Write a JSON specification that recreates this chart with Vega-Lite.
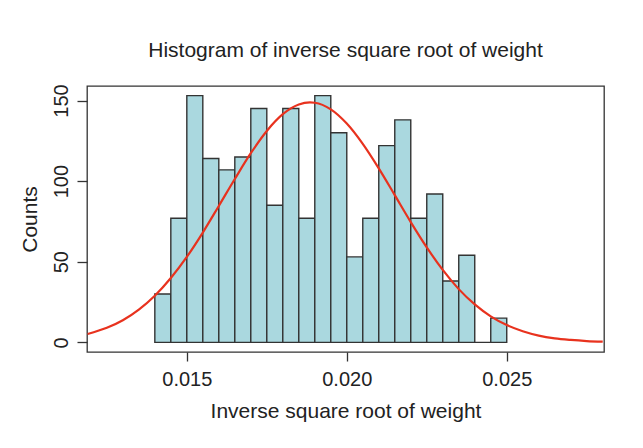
{
  "$schema": "https://vega.github.io/schema/vega-lite/v6.json",
  "width": 517,
  "height": 266,
  "autosize": {"type": "none"},
  "padding": {"left": 87, "top": 86, "right": 39, "bottom": 96},
  "background": "white",
  "title": {
    "text": "Histogram of inverse square root of weight",
    "font": "Liberation Sans",
    "fontSize": 21,
    "fontWeight": "normal",
    "color": "#222222",
    "anchor": "middle",
    "offset": 23
  },
  "datasets": {
    "bins": [
      {"lo": 0.0140, "hi": 0.0145, "count": 30},
      {"lo": 0.0145, "hi": 0.0150, "count": 77},
      {"lo": 0.0150, "hi": 0.0155, "count": 153},
      {"lo": 0.0155, "hi": 0.0160, "count": 114},
      {"lo": 0.0160, "hi": 0.0165, "count": 107},
      {"lo": 0.0165, "hi": 0.0170, "count": 115},
      {"lo": 0.0170, "hi": 0.0175, "count": 145},
      {"lo": 0.0175, "hi": 0.0180, "count": 85},
      {"lo": 0.0180, "hi": 0.0185, "count": 145},
      {"lo": 0.0185, "hi": 0.0190, "count": 77},
      {"lo": 0.0190, "hi": 0.0195, "count": 153},
      {"lo": 0.0195, "hi": 0.0200, "count": 130},
      {"lo": 0.0200, "hi": 0.0205, "count": 53},
      {"lo": 0.0205, "hi": 0.0210, "count": 77},
      {"lo": 0.0210, "hi": 0.0215, "count": 122},
      {"lo": 0.0215, "hi": 0.0220, "count": 138},
      {"lo": 0.0220, "hi": 0.0225, "count": 77},
      {"lo": 0.0225, "hi": 0.0230, "count": 92},
      {"lo": 0.0230, "hi": 0.0235, "count": 38},
      {"lo": 0.0235, "hi": 0.0240, "count": 54},
      {"lo": 0.0240, "hi": 0.0245, "count": 0},
      {"lo": 0.0245, "hi": 0.0250, "count": 15}
    ],
    "fit": [
      {"x": 0.0119, "expected": 5.2},
      {"x": 0.0125, "expected": 9.0},
      {"x": 0.0130, "expected": 13.7},
      {"x": 0.0135, "expected": 20.3},
      {"x": 0.0140, "expected": 28.9},
      {"x": 0.0145, "expected": 39.9},
      {"x": 0.0150, "expected": 53.0},
      {"x": 0.0155, "expected": 68.1},
      {"x": 0.0160, "expected": 84.6},
      {"x": 0.0165, "expected": 101.3},
      {"x": 0.0170, "expected": 117.3},
      {"x": 0.0175, "expected": 131.1},
      {"x": 0.0180, "expected": 141.5},
      {"x": 0.0185, "expected": 147.5},
      {"x": 0.01885, "expected": 148.8},
      {"x": 0.0190, "expected": 148.6},
      {"x": 0.0195, "expected": 144.5},
      {"x": 0.0200, "expected": 135.7},
      {"x": 0.0205, "expected": 123.1},
      {"x": 0.0210, "expected": 107.9},
      {"x": 0.0215, "expected": 91.3},
      {"x": 0.0220, "expected": 74.6},
      {"x": 0.0225, "expected": 58.9},
      {"x": 0.0230, "expected": 44.9},
      {"x": 0.0235, "expected": 33.0},
      {"x": 0.0240, "expected": 23.5},
      {"x": 0.0245, "expected": 16.1},
      {"x": 0.0250, "expected": 10.7},
      {"x": 0.0255, "expected": 6.9},
      {"x": 0.0260, "expected": 4.2},
      {"x": 0.0265, "expected": 2.5},
      {"x": 0.0270, "expected": 1.5},
      {"x": 0.0275, "expected": 0.8},
      {"x": 0.0280, "expected": 0.4}
    ]
  },
  "layer": [
    {
      "data": {"name": "bins"},
      "mark": {"type": "rect", "fill": "#aad8df", "stroke": "#333333", "strokeWidth": 1.4},
      "encoding": {
        "x": {
          "field": "lo",
          "type": "quantitative",
          "scale": {"domain": [0.01188, 0.02804], "nice": false, "zero": false},
          "axis": {
            "values": [0.015, 0.02, 0.025],
            "format": ".3f",
            "title": "Inverse square root of weight",
            "tickSize": 9,
            "labelPadding": 8,
            "titlePadding": 11
          }
        },
        "x2": {"field": "hi"},
        "y": {
          "field": "count",
          "type": "quantitative",
          "scale": {"domain": [-6, 159], "nice": false, "zero": false},
          "axis": {
            "values": [0, 50, 100, 150],
            "title": "Counts",
            "labelAngle": 270,
            "labelAlign": "center",
            "labelBaseline": "bottom",
            "tickSize": 10,
            "labelPadding": 6,
            "titlePadding": 11
          }
        },
        "y2": {"datum": 0}
      }
    },
    {
      "data": {"name": "fit"},
      "mark": {"type": "line", "color": "#e8321e", "strokeWidth": 2.2, "interpolate": "monotone", "clip": true},
      "encoding": {
        "x": {"field": "x", "type": "quantitative"},
        "y": {"field": "expected", "type": "quantitative"}
      }
    }
  ],
  "config": {
    "view": {"stroke": "#333333", "strokeWidth": 1.3},
    "axis": {
      "grid": false,
      "domain": false,
      "tickColor": "#333333",
      "tickWidth": 1.3,
      "labelFont": "Liberation Sans",
      "labelFontSize": 20,
      "labelColor": "#222222",
      "labelFlush": false,
      "labelOverlap": false,
      "titleFont": "Liberation Sans",
      "titleFontSize": 21,
      "titleFontWeight": "normal",
      "titleColor": "#222222"
    }
  }
}
